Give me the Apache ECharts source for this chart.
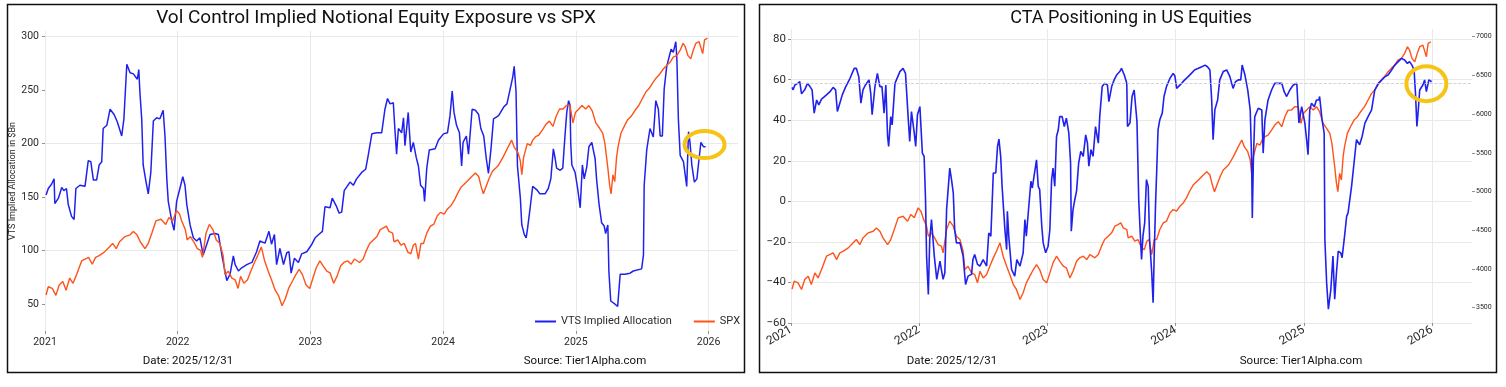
<!DOCTYPE html>
<html><head><meta charset="utf-8">
<script src="https://cdn.jsdelivr.net/npm/echarts@6/dist/echarts.min.js"></script>
<style>html,body{margin:0;padding:0;background:#fff}#c{width:1506px;height:387px}</style>
</head><body><div id="c"></div>
<script>
// ---------- Left chart: VTS implied allocation ($Bn) ----------
const vtsDates = ['2021-01-04','2021-01-10','2021-01-19','2021-01-26','2021-01-28','2021-02-07','2021-02-16','2021-02-22','2021-03-01','2021-03-06','2021-03-15','2021-03-22','2021-03-27','2021-04-07','2021-04-21','2021-04-30','2021-05-07','2021-05-14','2021-05-23','2021-05-30','2021-06-06','2021-06-10','2021-06-20','2021-06-29','2021-07-10','2021-07-19','2021-07-31','2021-08-06','2021-08-14','2021-08-23','2021-09-01','2021-09-12','2021-09-16','2021-09-19','2021-09-24','2021-09-28','2021-10-06','2021-10-12','2021-10-19','2021-10-26','2021-11-04','2021-11-13','2021-11-22','2021-11-27','2021-12-02','2021-12-06','2021-12-16','2021-12-22','2021-12-29',
'2022-01-07','2022-01-15','2022-01-21','2022-01-26','2022-02-04','2022-02-13','2022-02-22','2022-03-03','2022-03-12','2022-03-22','2022-03-31','2022-04-14','2022-04-23','2022-05-04','2022-05-16','2022-05-25','2022-06-03','2022-06-08','2022-06-17','2022-06-26','2022-07-10','2022-07-24','2022-08-06','2022-08-15','2022-08-29','2022-09-09','2022-09-16','2022-09-24','2022-09-30','2022-10-09','2022-10-19','2022-10-28','2022-11-03','2022-11-09','2022-11-18','2022-11-29','2022-12-08','2022-12-22',
'2023-01-05','2023-01-14','2023-01-27','2023-02-03','2023-02-10','2023-02-24','2023-03-02','2023-03-14','2023-03-21','2023-03-28','2023-04-04','2023-04-20','2023-04-29','2023-05-08','2023-05-22','2023-06-02','2023-06-09','2023-06-19','2023-07-03','2023-07-16','2023-07-25','2023-08-01','2023-08-08','2023-08-17','2023-08-22','2023-08-26','2023-08-31','2023-09-09','2023-09-14','2023-09-18','2023-09-27','2023-10-04','2023-10-11','2023-10-19','2023-10-25','2023-10-31','2023-11-08','2023-11-11','2023-11-17','2023-11-24','2023-12-10','2023-12-19',
'2024-01-02','2024-01-13','2024-01-20','2024-01-26','2024-01-31','2024-02-07','2024-02-15','2024-02-21','2024-02-25','2024-03-05','2024-03-11','2024-03-21','2024-03-30','2024-04-08','2024-04-14','2024-04-22','2024-04-29','2024-05-05','2024-05-12','2024-05-19','2024-06-02','2024-06-16','2024-06-25','2024-07-04','2024-07-11','2024-07-15','2024-07-20','2024-07-24','2024-08-01','2024-08-05','2024-08-12','2024-08-17','2024-08-21','2024-08-28','2024-09-04','2024-09-15','2024-09-24','2024-10-08','2024-10-17','2024-10-24','2024-10-31','2024-11-05','2024-11-09','2024-11-19','2024-11-26','2024-12-02','2024-12-07','2024-12-12','2024-12-16','2024-12-18','2024-12-21','2024-12-30',
'2025-01-06','2025-01-13','2025-01-19','2025-01-24','2025-01-31','2025-02-06','2025-02-14','2025-02-18','2025-02-23','2025-02-27','2025-03-06','2025-03-13','2025-03-20','2025-03-24','2025-03-30','2025-04-02','2025-04-07','2025-04-19','2025-04-26','2025-05-03','2025-05-16','2025-05-30','2025-06-08','2025-07-01','2025-07-06','2025-07-08','2025-07-15','2025-07-24','2025-08-02','2025-08-09','2025-08-16','2025-08-21','2025-08-27','2025-09-01','2025-09-08','2025-09-20','2025-09-26','2025-10-03','2025-10-06','2025-10-10','2025-10-15','2025-10-24','2025-11-02','2025-11-07','2025-11-11','2025-11-16','2025-11-23','2025-11-30','2025-12-06','2025-12-11','2025-12-18','2025-12-24'];
const vtsValues = [152,158,162,167,144,149,159,156,158,143,132,129,158,161,160,184,183,166,166,180,183,214,217,232,227,220,207,223,274,266,265,260,269,248,223,180,164,153,173,221,224,223,231,207,167,146,127,119,146,
158,169,161,143,124,112,109,112,96,106,115,116,115,93,72,78,95,87,81,84,87,89,99,109,107,118,106,115,87,102,87,98,99,79,93,89,97,99,
106,112,116,118,141,140,149,141,135,136,156,164,161,167,173,176,189,209,210,210,232,242,237,238,210,190,214,210,224,198,229,192,201,187,179,161,158,146,177,194,195,203,
209,210,226,249,229,217,210,179,201,207,190,232,231,227,214,207,186,172,195,223,226,234,237,251,262,272,249,179,149,124,115,112,121,140,160,157,153,153,158,167,195,186,177,175,177,207,229,240,236,200,180,173,
158,140,180,167,178,197,201,194,186,167,143,126,123,116,124,80,53,50,48,78,78,79,81,83,96,161,194,214,206,240,232,207,207,251,272,288,285,295,278,223,189,183,160,211,201,180,164,167,186,201,197,197];

// ---------- S&P 500 (used in both panels) ----------
const spxDates = ['2021-01-04','2021-01-10','2021-01-21','2021-01-31','2021-02-09','2021-02-19','2021-02-28','2021-03-10','2021-03-19','2021-03-29','2021-04-12','2021-04-21','2021-05-01','2021-05-11','2021-05-20','2021-05-30','2021-06-13','2021-06-27','2021-07-06','2021-07-16','2021-07-25','2021-08-09','2021-08-23','2021-09-01','2021-09-11','2021-09-20','2021-10-03','2021-10-12','2021-10-22','2021-11-02','2021-11-16','2021-11-29','2021-12-08','2021-12-18','2021-12-29',
'2022-01-06','2022-01-12','2022-01-22','2022-01-27','2022-02-05','2022-02-14','2022-02-24','2022-03-05','2022-03-10','2022-03-20','2022-03-29','2022-04-08','2022-04-17','2022-04-27','2022-05-06','2022-05-11','2022-05-20','2022-05-30','2022-06-08','2022-06-16','2022-06-23','2022-07-02','2022-07-12','2022-07-21','2022-07-31','2022-08-09','2022-08-19','2022-08-28','2022-09-07','2022-09-16','2022-09-26','2022-10-05','2022-10-15','2022-10-24','2022-11-02','2022-11-12','2022-11-22','2022-12-01','2022-12-10','2022-12-20','2022-12-30',
'2023-01-08','2023-01-17','2023-01-27','2023-02-05','2023-02-15','2023-02-24','2023-03-06','2023-03-15','2023-03-25','2023-04-03','2023-04-13','2023-04-23','2023-05-02','2023-05-16','2023-05-26','2023-06-04','2023-06-13','2023-06-23','2023-07-03','2023-07-12','2023-07-21','2023-07-29','2023-08-05','2023-08-15','2023-08-19','2023-08-29','2023-09-07','2023-09-16','2023-09-26','2023-10-04','2023-10-11','2023-10-17','2023-10-25','2023-11-01','2023-11-08','2023-11-17','2023-11-27','2023-12-06','2023-12-16','2023-12-25',
'2024-01-04','2024-01-13','2024-01-23','2024-02-01','2024-02-10','2024-02-20','2024-03-06','2024-03-20','2024-03-30','2024-04-08','2024-04-15','2024-04-21','2024-04-28','2024-05-07','2024-05-16','2024-05-31','2024-06-14','2024-06-28','2024-07-08','2024-07-15','2024-07-25','2024-08-01','2024-08-05','2024-08-10','2024-08-20','2024-08-29','2024-09-04','2024-09-12','2024-09-21','2024-10-01','2024-10-10','2024-10-20','2024-10-30','2024-11-08','2024-11-17','2024-11-27','2024-12-06','2024-12-16','2024-12-24','2024-12-31',
'2025-01-09','2025-01-18','2025-01-28','2025-02-06','2025-02-15','2025-02-25','2025-03-07','2025-03-16','2025-03-22','2025-03-30','2025-04-04','2025-04-08','2025-04-13','2025-04-18','2025-04-23','2025-04-27','2025-05-05','2025-05-14','2025-05-24','2025-06-03','2025-06-12','2025-06-23','2025-07-03','2025-07-13','2025-07-22','2025-07-31','2025-08-10','2025-08-19','2025-08-29','2025-09-07','2025-09-17','2025-09-26','2025-10-06','2025-10-15','2025-10-23','2025-10-29','2025-11-05','2025-11-13','2025-11-20','2025-11-27','2025-12-06','2025-12-16','2025-12-21','2025-12-29'];
const spxValues = [3737,3840,3819,3733,3862,3905,3797,3948,3883,3991,4163,4185,4206,4120,4206,4228,4271,4336,4379,4314,4400,4465,4486,4529,4486,4400,4314,4379,4508,4659,4680,4616,4702,4659,4788,
4745,4659,4551,4422,4465,4400,4314,4293,4206,4508,4616,4551,4422,4379,4228,3991,4034,3948,3926,3819,3969,3883,3926,4034,4142,4228,4336,4163,4034,3926,3797,3733,3603,3690,3819,3905,3991,4056,3991,3862,3819,
3948,4077,4163,4099,4034,4013,3883,3969,4099,4142,4163,4120,4185,4142,4185,4293,4379,4422,4465,4551,4572,4594,4529,4508,4400,4422,4357,4379,4271,4249,4357,4379,4185,4379,4379,4508,4594,4616,4723,4766,
4745,4809,4852,4917,5003,5083,5148,5213,5256,5213,5083,4997,5083,5191,5277,5342,5450,5579,5665,5579,5514,5406,5234,5450,5622,5600,5665,5708,5729,5794,5859,5902,5837,5966,6052,6052,6096,6096,5880,6009,
6052,6096,6052,6096,6031,5880,5816,5751,5622,5320,5105,4997,5234,5148,5450,5579,5751,5837,5923,5966,6031,6096,6182,6268,6311,6375,6440,6483,6548,6591,6634,6699,6720,6785,6871,6828,6720,6677,6785,6871,6892,6742,6914,6935];

// ---------- Right chart: CTA positioning ----------
const ctaDates = ['2021-01-04','2021-01-07','2021-01-12','2021-01-20','2021-01-26','2021-01-31','2021-02-09','2021-02-17','2021-02-24','2021-03-02','2021-03-08','2021-03-15','2021-03-21','2021-03-29','2021-04-12','2021-04-22','2021-05-01','2021-05-08','2021-05-13','2021-05-20','2021-05-27','2021-06-05','2021-06-18','2021-06-30','2021-07-06','2021-07-13','2021-07-19','2021-07-25','2021-08-01','2021-08-11','2021-08-16','2021-08-20','2021-08-28','2021-09-04','2021-09-11','2021-09-17','2021-09-23','2021-09-28','2021-10-03','2021-10-06','2021-10-12','2021-10-16','2021-10-24','2021-11-07','2021-11-16','2021-11-23','2021-12-01','2021-12-05','2021-12-10','2021-12-18','2021-12-22','2021-12-27',
'2022-01-03','2022-01-10','2022-01-15','2022-01-19','2022-01-22','2022-01-27','2022-01-31','2022-02-05','2022-02-13','2022-02-20','2022-03-01','2022-03-10','2022-03-15','2022-03-20','2022-03-29','2022-04-03','2022-04-08','2022-04-12','2022-04-17','2022-04-27','2022-05-06','2022-05-13','2022-05-20','2022-05-30','2022-06-03','2022-06-08','2022-06-16','2022-06-23','2022-07-02','2022-07-12','2022-07-18','2022-07-24','2022-07-31','2022-08-07','2022-08-12','2022-08-16','2022-08-21','2022-08-25','2022-09-02','2022-09-07','2022-09-09','2022-09-13','2022-09-21','2022-09-30','2022-10-06','2022-10-15','2022-10-24','2022-10-29','2022-11-02','2022-11-15','2022-11-19','2022-11-24','2022-12-01','2022-12-06','2022-12-10','2022-12-16','2022-12-20','2022-12-27',
'2023-01-03','2023-01-08','2023-01-13','2023-01-17','2023-01-22','2023-01-27','2023-02-01','2023-02-05','2023-02-12','2023-02-18','2023-02-24','2023-03-03','2023-03-08','2023-03-10','2023-03-15','2023-03-20','2023-03-25','2023-03-31','2023-04-06','2023-04-13','2023-04-20','2023-04-25','2023-04-29','2023-05-05','2023-05-11','2023-05-18','2023-05-26','2023-05-30','2023-06-06','2023-06-13','2023-06-21','2023-06-25','2023-07-03','2023-07-10','2023-07-17','2023-07-26','2023-07-31','2023-08-08','2023-08-15','2023-08-17','2023-08-24','2023-08-30','2023-09-05','2023-09-13','2023-09-18','2023-09-21','2023-09-26','2023-09-30','2023-10-05','2023-10-10','2023-10-15','2023-10-19','2023-10-25','2023-10-29','2023-11-01','2023-11-05','2023-11-08','2023-11-12','2023-11-17','2023-11-24','2023-11-29','2023-12-06','2023-12-16','2023-12-25','2023-12-30',
'2024-01-04','2024-01-08','2024-01-18','2024-01-27','2024-02-06','2024-02-15','2024-02-24','2024-03-06','2024-03-16','2024-03-25','2024-04-01','2024-04-08','2024-04-13','2024-04-17','2024-04-22','2024-04-30','2024-05-06','2024-05-16','2024-05-26','2024-06-04','2024-06-13','2024-06-20','2024-06-28','2024-07-05','2024-07-09','2024-07-17','2024-07-25','2024-08-01','2024-08-05','2024-08-07','2024-08-10','2024-08-14','2024-08-24','2024-09-03','2024-09-07','2024-09-12','2024-09-21','2024-10-01','2024-10-10','2024-10-20','2024-10-30','2024-11-06','2024-11-13','2024-11-22','2024-12-02','2024-12-12','2024-12-16','2024-12-18','2024-12-26',
'2025-01-04','2025-01-09','2025-01-13','2025-01-18','2025-01-23','2025-01-31','2025-02-06','2025-02-13','2025-02-15','2025-02-22','2025-02-28','2025-03-02','2025-03-07','2025-03-12','2025-03-19','2025-03-25','2025-03-30','2025-04-04','2025-04-09','2025-04-16','2025-04-20','2025-04-26','2025-05-03','2025-05-07','2025-05-17','2025-05-24','2025-05-31','2025-06-09','2025-06-16','2025-06-24','2025-07-03','2025-07-13','2025-07-22','2025-08-01','2025-08-11','2025-08-20','2025-08-29','2025-09-08','2025-09-17','2025-09-27','2025-10-06','2025-10-15','2025-10-23','2025-10-29','2025-11-05','2025-11-11','2025-11-15','2025-11-19','2025-11-23','2025-11-27','2025-12-06','2025-12-11','2025-12-16','2025-12-23','2025-12-31'];
const ctaValues = [56.2,55,57.4,58.2,59,53,55,58.2,56.6,55,43.5,50,47.6,50.4,52.5,54.1,56.2,55,44.3,48.4,52.5,56.2,60.7,65.6,65.6,61.5,48.4,55,57.4,59.9,53.3,42.7,56.6,63.1,56.6,56.6,43.5,57.4,32,27.1,41.8,37.7,58.2,64,65.6,63.1,40.2,29.5,44.3,33.6,27.1,42.7,
46.7,23.8,22.2,0.9,-27,-45.9,-18.8,-9,-27,-38.5,-29.5,-38.5,-35.2,-4.1,16.4,10.7,4.2,-13.9,-20.5,-20.5,-27,-41,-36.9,-36,-28.7,-26.2,-31.1,-31.9,-28.7,-31.9,-15.6,-17.2,14,14,27.1,30.7,22.2,7.4,-13.9,-23.8,-4.9,-17.2,-33.6,-36.9,-28.7,-31.9,-25.4,-9,-17.2,9.9,6.6,12.4,20.5,7.4,5.8,-12.3,-20.5,-25.4,
-22.1,-13.9,10.7,16.4,7.4,32,35.3,41.8,41.8,36.9,41,33.6,18.9,-14.7,-4.1,0.8,5,18.9,24.6,22.2,32.8,28.7,17.3,25.5,22.2,36.9,28.7,41.8,56.6,58.2,57.4,49.2,56.6,59.9,62.3,64,65.6,62.3,58.2,36.9,38.6,51.7,54.9,39.4,0.9,-10.6,-28.7,-17.2,-10.6,10.7,7.4,-18.8,-35.2,-50,-27,-0.8,14,35.3,40.2,43.5,51.7,56.6,60.7,63.1,61.8,
55.7,56.6,58.2,59.9,61.5,63.1,64.8,65.6,66.4,67.2,66.4,64.8,50,30.4,45.1,50,59.9,64,64.8,61.5,55.7,59,59.9,59.9,67.2,62.3,54.9,45.1,20.5,-8.2,20,41.8,45.9,45.1,23.8,40.2,50,54.9,58.2,58.2,58.2,54.1,51.7,54.9,57.4,58.2,57.4,38.6,46.7,
38.6,30.4,23,45.1,48.4,46.7,50,50,51.7,40.2,33.6,-18.8,-40.1,-53.2,-43.4,-27,-48.3,-35.2,-24.6,-25.4,-27.8,-18.8,-7.4,-5.7,7.4,18.9,30.4,27.9,32,38.6,41.8,45.1,54.9,58.2,59.9,61.5,62.3,64.8,67.2,68.9,70.5,69.7,68,68.9,67.2,64.8,53.3,36.9,45.1,54.9,57.4,59.9,54.1,59.9,59];

// ---------- Axes ticks and annotations ----------
const yearTicks = [2021, 2022, 2023, 2024, 2025, 2026];
const vtsTicks = [50, 100, 150, 200, 250, 300];
const ctaTicks = [-60, -40, -20, 0, 20, 40, 60, 80];
const spxTicks = [3500, 4000, 4500, 5000, 5500, 6000, 6500, 7000];
const ctaRefLevel = 58;                 // dashed reference line, right panel
const leftHighlight = ['2025-12-21', 199];
const rightHighlight = ['2025-12-16', 58];

function toYear(d) {
  const [y, m, dd] = d.split('-').map(Number);
  const s = Date.UTC(y, 0, 1), e = Date.UTC(y + 1, 0, 1);
  return y + (Date.UTC(y, m - 1, dd) - s) / (e - s);
}
function pairs(ds, vs) { return ds.map((d, i) => [toYear(d), vs[i]]); }

const BLUE = '#2121ee', ORANGE = '#ff5319', GRID = '#e3e3e3', TXT = '#2a2a2a';
const FONT = 'Roboto, "Noto Sans", sans-serif';

const chart = echarts.init(document.getElementById('c'), null, { renderer: 'canvas' });

const xBase = (max, rot, fs) => ({
  type: 'value', min: 2021, max: max, interval: 1, position: 'bottom',
  axisLine: { show: false, onZero: false },
  axisTick: { show: true, customValues: yearTicks, length: 3, lineStyle: { color: '#777', width: 0.8 } },
  axisLabel: { customValues: yearTicks, fontSize: fs, color: TXT, fontFamily: FONT, rotate: rot, margin: 6,
               formatter: v => String(Math.round(v)) },
  splitLine: { show: true, lineStyle: { color: GRID, width: 0.8 } }
});

chart.setOption({
  animation: false,
  backgroundColor: '#fff',
  grid: [
    { left: 45, right: 768, top: 31, bottom: 56 },
    { left: 791, right: 34, top: 29, bottom: 64 }
  ],
  xAxis: [
    Object.assign(xBase(2026.222, 0, 10.5), { gridIndex: 0 }),
    Object.assign(xBase(2026.312, 30, 12), { gridIndex: 1 })
  ],
  yAxis: [
    { gridIndex: 0, type: 'value', min: 25, max: 305, interval: 25, position: 'left',
      axisLine: { show: false },
      axisTick: { show: true, customValues: vtsTicks, length: 3, lineStyle: { color: '#777', width: 0.8 } },
      axisLabel: { customValues: vtsTicks, fontSize: 10.5, color: TXT, fontFamily: FONT, margin: 6 },
      splitLine: { show: true, lineStyle: { color: ['rgba(0,0,0,0)', GRID], width: 0.8 } },
      name: 'VTS Implied Allocation in $Bn', nameLocation: 'middle', nameGap: 25,
      nameTextStyle: { fontSize: 9, color: TXT, fontFamily: FONT } },
    { gridIndex: 0, type: 'value', min: 3289, max: 7024, show: false, splitLine: { show: false } },
    { gridIndex: 1, type: 'value', min: -60, max: 85, interval: 20, position: 'left',
      axisLine: { show: false },
      axisTick: { show: true, customValues: ctaTicks, length: 3, lineStyle: { color: '#777', width: 0.8 } },
      axisLabel: { customValues: ctaTicks, fontSize: 11.5, color: TXT, fontFamily: FONT, margin: 5,
                   formatter: v => String(v).replace('-', '\u2212') },
      splitLine: { show: true, lineStyle: { color: [GRID, GRID, GRID, GRID, GRID, GRID, GRID, GRID, 'rgba(0,0,0,0)'], width: 0.8 } } },
    { gridIndex: 1, type: 'value', min: 3300, max: 7100, position: 'right',
      axisLine: { show: false },
      axisTick: { show: true, customValues: spxTicks, length: 3, lineStyle: { color: '#777', width: 0.8 } },
      axisLabel: { customValues: spxTicks, fontSize: 7, color: TXT, fontFamily: FONT, margin: 4,
                   formatter: v => String(v) },
      splitLine: { show: false } }
  ],
  legend: {
    data: ['VTS Implied Allocation', 'SPX'],
    left: 530, top: 311, icon: 'rect', itemWidth: 21, itemHeight: 2, itemGap: 22,
    textStyle: { fontSize: 11, color: TXT, fontFamily: FONT }
  },
  series: [
    { name: 'VTS Implied Allocation', type: 'line', xAxisIndex: 0, yAxisIndex: 0,
      data: pairs(vtsDates, vtsValues), showSymbol: false, symbol: 'none',
      lineStyle: { color: BLUE, width: 1.5 }, itemStyle: { color: BLUE } },
    { name: 'SPX', type: 'line', xAxisIndex: 0, yAxisIndex: 1,
      data: pairs(spxDates, spxValues), showSymbol: false, symbol: 'none',
      lineStyle: { color: ORANGE, width: 1.4 }, itemStyle: { color: ORANGE } },
    { name: 'SPX', type: 'line', xAxisIndex: 1, yAxisIndex: 3,
      data: pairs(spxDates, spxValues), showSymbol: false, symbol: 'none',
      lineStyle: { color: ORANGE, width: 1.4 }, itemStyle: { color: ORANGE } },
    { name: 'CTA Positioning', type: 'line', xAxisIndex: 1, yAxisIndex: 2,
      data: pairs(ctaDates, ctaValues), showSymbol: false, symbol: 'none',
      lineStyle: { color: BLUE, width: 1.6 }, itemStyle: { color: BLUE },
      markLine: { silent: true, symbol: 'none', label: { show: false },
                  lineStyle: { type: 'dashed', color: '#c8c8c8', width: 0.8 },
                  data: [{ yAxis: ctaRefLevel }] } }
  ]
});

// frames, titles, footers, highlight ellipses
const pL = chart.convertToPixel({ xAxisIndex: 0, yAxisIndex: 0 }, [toYear(leftHighlight[0]), leftHighlight[1]]);
const pR = chart.convertToPixel({ xAxisIndex: 1, yAxisIndex: 2 }, [toYear(rightHighlight[0]), rightHighlight[1]]);
const txt = (t, x, y, size) => ({ type: 'text', style: { text: t, x: x, y: y, textAlign: 'center', textVerticalAlign: 'middle',
  fontSize: size, fontFamily: FONT, fill: '#111' }, z: 10 });
chart.setOption({
  graphic: [
    { type: 'rect', shape: { x: 7.5, y: 4.5, width: 737, height: 368 }, style: { fill: 'none', stroke: '#111', lineWidth: 1.5 }, z: 10 },
    { type: 'rect', shape: { x: 759.5, y: 4.5, width: 737, height: 368 }, style: { fill: 'none', stroke: '#111', lineWidth: 1.5 }, z: 10 },
    txt('Vol Control Implied Notional Equity Exposure vs SPX', 376, 18, 19),
    txt('CTA Positioning in US Equities', 1131, 18, 18),
    txt('Date: 2025/12/31', 188, 361, 11.5),
    txt('Source: Tier1Alpha.com', 585, 361, 11.5),
    txt('Date: 2025/12/31', 952, 361, 11.5),
    txt('Source: Tier1Alpha.com', 1301, 361, 11.5),
    { type: 'ellipse', shape: { cx: pL[0], cy: pL[1], rx: 20, ry: 13.5 }, style: { fill: 'none', stroke: '#f6c417', lineWidth: 4 }, z: 20 },
    { type: 'ellipse', shape: { cx: pR[0], cy: pR[1], rx: 20, ry: 17.5 }, style: { fill: 'none', stroke: '#f6c417', lineWidth: 4 }, z: 20 }
  ]
});
</script>
</body></html>
